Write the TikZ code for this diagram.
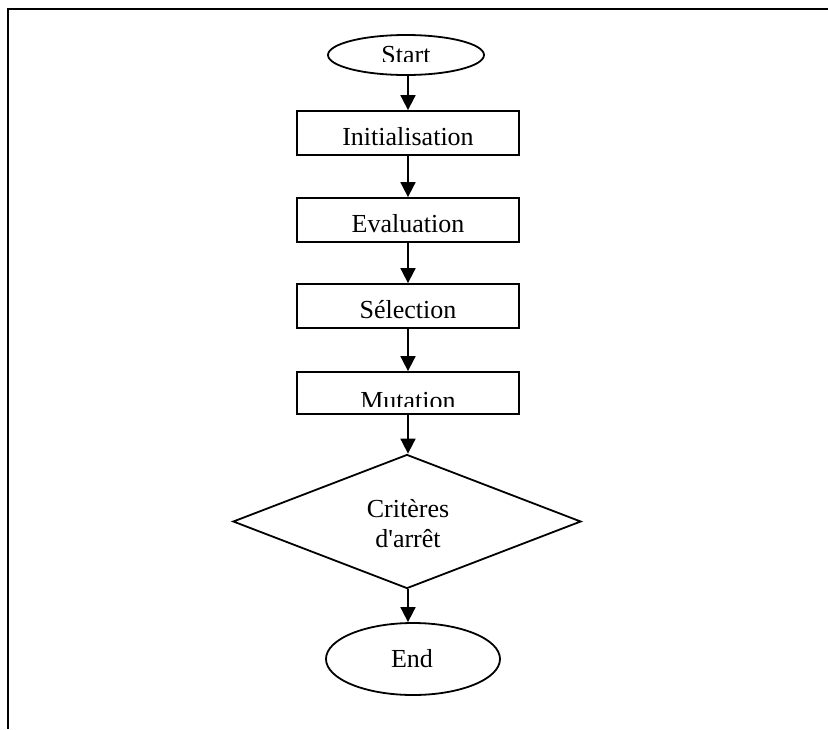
\documentclass[tikz,border=0pt]{standalone}
\usepackage{fontspec}
\setmainfont{Liberation Serif}
\usetikzlibrary{arrows.meta,shapes.geometric}
\begin{document}
\begin{tikzpicture}[x=1pt,y=-1pt,
  outline/.style={draw=black,line width=1.8pt},
  stepbox/.style={outline,rectangle,minimum width=222pt,minimum height=44pt,inner sep=0pt},
  terminal/.style={outline,ellipse,inner sep=0pt},
  decision/.style={outline,diamond,inner sep=0pt,minimum width=348pt,minimum height=134pt},
  flow/.style={-{Triangle[width=15pt,length=15pt]},line width=1.8pt},
  caption/.style={font=\fontsize{26}{30}\selectfont,inner sep=0pt,anchor=base}
]
\useasboundingbox (0,0) rectangle (828,729);

% page frame (top and left edges)
\draw[line width=2.6pt] (828,9) -- (8,9) -- (8,729);

% shapes
\node[terminal,minimum width=156pt,minimum height=40pt] (start) at (406,55) {};
\node[stepbox] (init) at (408,133) {};
\node[stepbox] (eval) at (408,220) {};
\node[stepbox] (sel)  at (408,306) {};
\node[stepbox,minimum height=42pt] (mut) at (408,393) {};
\node[decision] (dec) at (407,521.5) {};
\node[terminal,minimum width=174pt,minimum height=72pt] (end) at (413,659) {};

% labels (the Start and Mutation texts are cut off at the bottom)
\begin{scope}
  \clip (320,40) rectangle (490,61.5);
  \node[caption] (startlabel) at (406,63.5) {Start};
\end{scope}
\node[caption] (initlabel) at (408,145) {Initialisation};
\node[caption] (evallabel) at (408,232) {Evaluation};
\node[caption] (sellabel)  at (408,318) {Sélection};
\begin{scope}
  \clip (300,380) rectangle (516,406.5);
  \node[caption] (mutlabel) at (408,409.5) {Mutation};
\end{scope}
\node[caption] (critlabel) at (408,517) {Critères};
\node[caption] (arretlabel) at (408,547) {d\textquotesingle arrêt};
\node[caption] (endlabel) at (412,667) {End};

% connectors
\draw[flow] (init.north |- start.south) -- (init.north);
\draw[flow] (init.south) -- (eval.north);
\draw[flow] (eval.south) -- (sel.north);
\draw[flow] (sel.south) -- (mut.north);
\draw[flow] (mut.south) -- (mut.south |- dec.north);
\draw[flow] (mut.south |- dec.south) -- (mut.south |- end.north);
\end{tikzpicture}
\end{document}
